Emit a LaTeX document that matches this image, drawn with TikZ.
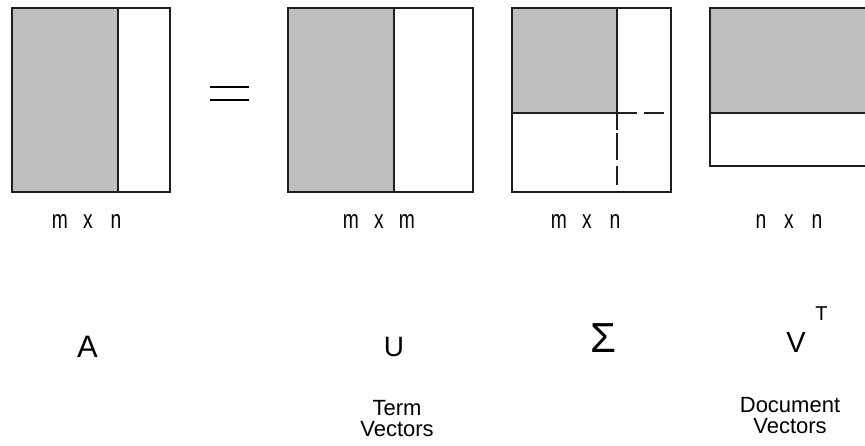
\documentclass[tikz,border=0pt]{standalone}
\usepackage{fontspec}
\setmainfont{Liberation Sans}
\usepackage{graphicx}

% condensed dimension letters, spaced on a fixed pitch
\newcommand{\dimglyph}[1]{\makebox[28pt]{\scalebox{0.74}[1]{#1}}}
\newcommand{\dimsize}[3]{\dimglyph{#1}\dimglyph{#2}\dimglyph{#3}}

\begin{document}
\begin{tikzpicture}[x=1pt,y=-1pt,
  frame/.style={line width=1.8pt, draw=black!88},
  part/.style={line width=1.8pt, draw=black!88},
  block/.style={fill=black!25},
  dimlabel/.style={font=\fontsize{26}{26}\selectfont, anchor=base, inner sep=0pt},
  symlabel/.style={anchor=base, inner sep=0pt},
  caption/.style={font=\fontsize{22}{21}\selectfont, align=center, anchor=north, inner sep=0pt}]
\useasboundingbox (0,0) rectangle (865,445);
\clip (0,0) rectangle (865,445);

% A  (m x n)
\coordinate (A-nw) at (12,8);
\coordinate (A-se) at (170,192);
\fill[block] (A-nw) rectangle (118,192);
\draw[part] (118,8) -- (118,192);
\draw[frame] (A-nw) rectangle (A-se);

% equals sign
\draw[line width=1.8pt] (210,87) -- (249,87);
\draw[line width=1.8pt] (210,100) -- (249,100);

% U  (m x m)
\coordinate (U-nw) at (288,8);
\coordinate (U-se) at (473,192);
\fill[block] (U-nw) rectangle (394,192);
\draw[part] (394,8) -- (394,192);
\draw[frame] (U-nw) rectangle (U-se);

% Sigma  (m x n)
\coordinate (S-nw) at (512,8);
\coordinate (S-se) at (671,192);
\coordinate (S-c) at (617,113);
\fill[block] (S-nw) rectangle (S-c);
\draw[part] (617,8) -- (S-c) -- (512,113);
\draw[part, dash pattern=on 20pt off 7pt on 20pt off 100pt] (S-c) -- (664,113);
\draw[part, dash pattern=on 17pt off 3pt on 27pt off 6pt on 19pt off 100pt] (S-c) -- (617,185);
\draw[frame] (S-nw) rectangle (S-se);

% V^T  (n x n)
\coordinate (V-nw) at (710,8);
\coordinate (V-se) at (872,166);
\fill[block] (V-nw) rectangle (872,113);
\draw[part] (710,113) -- (872,113);
\draw[frame] (V-nw) rectangle (V-se);

% dimensions
\node[dimlabel] (dA) at (88,228) {\dimsize{m}{x}{n}};
\node[dimlabel] (dU) at (379,228) {\dimsize{m}{x}{m}};
\node[dimlabel] (dS) at (587,228) {\dimsize{m}{x}{n}};
\node[dimlabel] (dV) at (789,228) {\dimsize{n}{x}{n}};

% symbols
\node[symlabel, font=\fontsize{31}{31}\selectfont] (symA) at (87.5,357) {A};
\node[symlabel, font=\fontsize{28}{28}\selectfont] (symU) at (394,356) {U};
\node[symlabel, font=\fontsize{42}{42}\selectfont] (symS) at (603,352) {Σ};
\node[symlabel, font=\fontsize{29}{29}\selectfont] (symV) at (796,352) {V};
\node[symlabel, font=\fontsize{20}{20}\selectfont] (symT) at (821.5,320) {T};

% captions
\node[caption] (capU) at (397,400) {Term\\Vectors};
\node[caption] (capV) at (790,397) {Document\\Vectors};
\end{tikzpicture}
\end{document}
